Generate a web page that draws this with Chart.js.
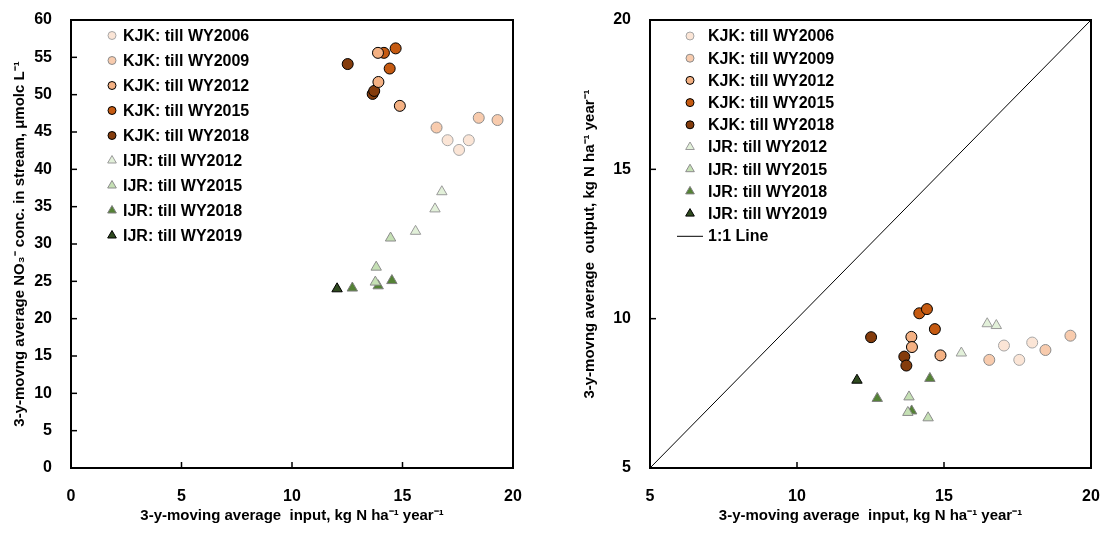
<!DOCTYPE html>
<html>
<head>
<meta charset="utf-8">
<script src="https://cdn.jsdelivr.net/npm/chart.js@4.4.1/dist/chart.umd.min.js"></script>
<style>
  html, body { margin: 0; padding: 0; background: #fff; }
  .panel { position: absolute; top: 0; width: 551px; height: 534px; }
  #left { left: 0; }
  #right { left: 551px; }
</style>
</head>
<body>
<div class="panel" id="left"><canvas id="concChart" width="551" height="534"></canvas></div>
<div class="panel" id="right"><canvas id="outChart" width="551" height="534"></canvas></div>
<script>
// KJK groups: three water years each
const kjkLabels = ['KJK: till WY2006', 'KJK: till WY2009', 'KJK: till WY2012', 'KJK: till WY2015', 'KJK: till WY2018'];
const kjkInput = [
  [17.04, 17.56, 18.00],
  [16.54, 18.45, 19.30],
  [13.89, 13.91, 14.88],
  [14.16, 14.42, 14.69],
  [12.52, 13.65, 13.72]
];
const kjkConc = [
  [43.9, 42.6, 43.9],
  [45.6, 46.9, 46.6],
  [55.6, 51.7, 48.5],
  [55.6, 53.5, 56.2],
  [54.1, 50.1, 50.5]
];
const kjkOutput = [
  [9.10, 8.62, 9.20],
  [8.62, 8.95, 9.43],
  [9.39, 9.05, 8.77],
  [10.18, 10.32, 9.65],
  [9.38, 8.73, 8.43]
];

// IJR groups
const ijrLabels = ['IJR: till WY2012', 'IJR: till WY2015', 'IJR: till WY2018', 'IJR: till WY2019'];
const ijrInput = [
  [15.59, 16.47, 16.78],
  [14.46, 13.81, 13.77],
  [12.73, 13.90, 14.52],
  [12.04]
];
const ijrConc = [
  [31.7, 34.7, 37.0],
  [30.8, 26.9, 24.9],
  [24.1, 24.4, 25.1],
  [24.0]
];
const ijrOutput = [
  [8.85, 9.83, 9.77],
  [6.68, 7.38, 6.86],
  [7.33, 6.91, 8.00],
  [7.94]
];

const lineLabel = '1:1 Line';
const lineEnds = [5, 20];

const kjkFill = ['#fbe5d6', '#f8cbad', '#f4b183', '#c55a11', '#843c0c'];
const kjkEdge = ['#a6a6a6', '#8c8c8c', '#000000', '#000000', '#000000'];
const ijrFill = ['#e2f0d9', '#c5e0b4', '#548235', '#2f4a1f'];
const ijrEdge = ['#9a9a9a', '#8c8c8c', '#7f7f7f', '#000000'];

const FONT = "'Liberation Sans', Arial, sans-serif";

function toPoints(xs, ys) {
  return xs.map((x, i) => ({ x: x, y: ys[i] }));
}

function buildSets(kjkY, ijrY) {
  const sets = [];
  kjkLabels.forEach((label, i) => {
    sets.push({
      label: label,
      data: toPoints(kjkInput[i], kjkY[i]),
      pointStyle: 'circle',
      pointRadius: 5.5,
      backgroundColor: kjkFill[i],
      borderColor: kjkEdge[i],
      borderWidth: 1
    });
  });
  ijrLabels.forEach((label, i) => {
    sets.push({
      label: label,
      data: toPoints(ijrInput[i], ijrY[i]),
      pointStyle: 'triangle',
      pointRadius: 6,
      backgroundColor: ijrFill[i],
      borderColor: ijrEdge[i],
      borderWidth: 1
    });
  });
  return sets;
}

function drawMarker(ctx, style, x, y, r) {
  ctx.beginPath();
  if (style === 'triangle') {
    let rad = 0;
    ctx.moveTo(x + Math.sin(rad) * r, y - Math.cos(rad) * r);
    rad += 2 * Math.PI / 3;
    ctx.lineTo(x + Math.sin(rad) * r, y - Math.cos(rad) * r);
    rad += 2 * Math.PI / 3;
    ctx.lineTo(x + Math.sin(rad) * r, y - Math.cos(rad) * r);
    ctx.closePath();
  } else {
    ctx.arc(x, y, r, 0, Math.PI * 2);
  }
  ctx.fill();
  ctx.stroke();
}

// legend drawn inside the plot box
const insideLegend = {
  id: 'insideLegend',
  afterDraw(chart, args, opts) {
    const ctx = chart.ctx;
    ctx.save();
    ctx.font = 'bold 16px ' + FONT;
    ctx.textBaseline = 'middle';
    ctx.textAlign = 'left';
    chart.data.datasets.forEach((ds, i) => {
      const y = opts.top + i * opts.step;
      if (ds.showLine) {
        ctx.strokeStyle = ds.borderColor;
        ctx.lineWidth = 1;
        ctx.beginPath();
        ctx.moveTo(opts.lineFrom, y + 0.5);
        ctx.lineTo(opts.lineTo, y + 0.5);
        ctx.stroke();
      } else {
        ctx.fillStyle = ds.backgroundColor;
        ctx.strokeStyle = ds.borderColor;
        ctx.lineWidth = 1;
        drawMarker(ctx, ds.pointStyle, opts.markX, y, ds.pointStyle === 'triangle' ? 5 : 4);
      }
      ctx.fillStyle = '#000';
      ctx.fillText(ds.label, opts.textX, y + 1);
    });
    ctx.restore();
  }
};

// plot frame and inward tick marks
const boxFrame = {
  id: 'boxFrame',
  afterDraw(chart) {
    const { ctx, chartArea: a, scales } = chart;
    ctx.save();
    ctx.strokeStyle = '#000';
    ctx.lineWidth = 1.5;
    scales.x.ticks.forEach(t => {
      const px = scales.x.getPixelForValue(t.value);
      ctx.beginPath();
      ctx.moveTo(px, a.bottom);
      ctx.lineTo(px, a.bottom - 6);
      ctx.stroke();
    });
    scales.y.ticks.forEach(t => {
      const py = scales.y.getPixelForValue(t.value);
      ctx.beginPath();
      ctx.moveTo(a.left, py);
      ctx.lineTo(a.left + 6, py);
      ctx.stroke();
    });
    ctx.lineWidth = 2;
    ctx.strokeRect(a.left, a.top, a.right - a.left, a.bottom - a.top);
    ctx.restore();
  }
};

function axis(min, max, step, title, titlePad, size) {
  return {
    type: 'linear',
    min: min,
    max: max,
    ticks: { stepSize: step, padding: 19, color: '#000', font: { family: FONT, size: 16, weight: 'bold' } },
    grid: { display: false, drawTicks: false },
    border: { display: false },
    title: { display: true, text: title, color: '#000', padding: titlePad, font: { family: FONT, size: 15, weight: 'bold' } },
    afterFit: s => {
      // fixed axis band, no extra room for overhanging end labels
      if (s.isHorizontal()) s.height = size; else s.width = size;
      s.paddingLeft = s.paddingRight = s.paddingTop = s.paddingBottom = 0;
    }
  };
}

const xTitle = '3-y-moving average  input, kg N ha\u207B\u00B9 year\u207B\u00B9';

new Chart(document.getElementById('concChart'), {
  type: 'scatter',
  data: { datasets: buildSets(kjkConc, ijrConc) },
  options: {
    responsive: false,
    animation: false,
    devicePixelRatio: 1,
    layout: { padding: { top: 20, right: 38, left: 0, bottom: 0 } },
    plugins: {
      legend: { display: false },
      tooltip: { enabled: false },
      insideLegend: { markX: 112, textX: 123, top: 35.5, step: 25 }
    },
    scales: {
      x: axis(0, 20, 5, xTitle, { top: 4, bottom: 9 }, 66),
      y: axis(0, 60, 5, '3-y-movng average NO\u2083\u207B conc. in stream, \u03BCmolc L\u207B\u00B9', { top: 11, bottom: 0 }, 71)
    }
  },
  plugins: [boxFrame, insideLegend]
});

const outSets = buildSets(kjkOutput, ijrOutput);
outSets.push({
  label: lineLabel,
  data: toPoints(lineEnds, lineEnds),
  showLine: true,
  pointRadius: 0,
  borderColor: '#000000',
  backgroundColor: '#000000',
  borderWidth: 1
});

new Chart(document.getElementById('outChart'), {
  type: 'scatter',
  data: { datasets: outSets },
  options: {
    responsive: false,
    animation: false,
    devicePixelRatio: 1,
    layout: { padding: { top: 20, right: 11, left: 0, bottom: 0 } },
    plugins: {
      legend: { display: false },
      tooltip: { enabled: false },
      insideLegend: { markX: 139, textX: 157, top: 36, step: 22.2, lineFrom: 126, lineTo: 152 }
    },
    scales: {
      x: axis(5, 20, 5, xTitle, { top: 4, bottom: 9 }, 66),
      y: axis(5, 20, 5, '3-y-movng average  output, kg N ha\u207B\u00B9 year\u207B\u00B9', { top: 30, bottom: 0 }, 99)
    }
  },
  plugins: [boxFrame, insideLegend]
});
</script>
</body>
</html>
